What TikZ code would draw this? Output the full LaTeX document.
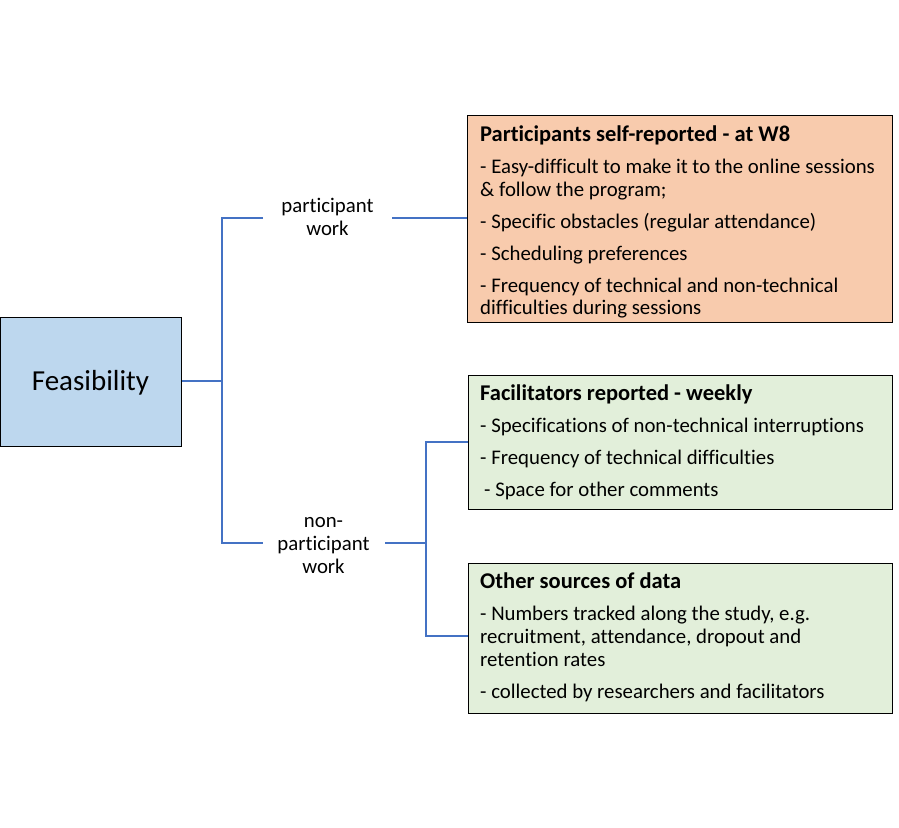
\documentclass[tikz,border=0pt]{standalone}
\usepackage{fontspec}
\setmainfont[Ligatures=CommonOff]{Carlito}
\definecolor{lblue}{HTML}{BDD7EE}
\definecolor{lorange}{HTML}{F8CBAD}
\definecolor{lgreen}{HTML}{E2EFDA}
\definecolor{linkblue}{HTML}{4472C4}
\begin{document}
\begin{tikzpicture}[x=1pt,y=-1pt,
  box/.style={draw=black,line width=1.2pt,anchor=north west,inner sep=0pt},
  txt/.style={anchor=base west,inner sep=0pt,font=\fontsize{20.8}{24}\selectfont},
  ttl/.style={anchor=base west,inner sep=0pt,font=\fontsize{22.5}{26}\selectfont\bfseries},
  lbl/.style={anchor=base,inner sep=0pt,font=\fontsize{20.8}{24}\selectfont},
  link/.style={draw=linkblue,line width=1.8pt}]
\useasboundingbox (0,0) rectangle (899,827);
% boxes
\node[box,fill=lblue,minimum width=181pt,minimum height=129pt] (feas) at (0,317) {};
\node[anchor=base,inner sep=0pt,font=\fontsize{29}{34}\selectfont] (feast) at (90.5,390) {Feasibility};
\node[box,fill=lorange,minimum width=425pt,minimum height=207pt] (pbox) at (467,115) {};
\node[box,fill=lgreen,minimum width=424pt,minimum height=134pt] (fbox) at (468,375) {};
\node[box,fill=lgreen,minimum width=424pt,minimum height=150pt] (obox) at (468,563) {};
% orange text
\node[ttl] (p0) at (480,141) {Participants self-reported - at W8};
\node[txt] (p1) at (480,173) {- Easy-difficult to make it to the online sessions};
\node[txt] (p2) at (480,196) {\& follow the program;};
\node[txt] (p3) at (480,228) {- Specific obstacles (regular attendance)};
\node[txt] (p4) at (480,260) {- Scheduling preferences};
\node[txt] (p5) at (480,292) {- Frequency of technical and non-technical};
\node[txt] (p6) at (480,314) {difficulties during sessions};
% green 1
\node[ttl] (f0) at (480,400) {Facilitators reported - weekly};
\node[txt] (f1) at (480,432) {- Specifications of non-technical interruptions};
\node[txt] (f2) at (480,464) {- Frequency of technical difficulties};
\node[txt] (f3) at (484,496) {- Space for other comments};
% green 2
\node[ttl] (g0) at (480,588) {Other sources of data};
\node[txt] (g1) at (480,620) {- Numbers tracked along the study, e.g.};
\node[txt] (g2) at (480,643) {recruitment, attendance, dropout and};
\node[txt] (g3) at (480,666) {retention rates};
\node[txt] (g4) at (480,698) {- collected by researchers and facilitators};
% labels
\node[lbl] (pw1) at (327.5,212) {participant};
\node[lbl] (pw2) at (327.5,235) {work};
\node[lbl] (nw1) at (323.5,527) {non-};
\node[lbl] (nw2) at (323.5,550) {participant};
\node[lbl] (nw3) at (323.5,573) {work};
% connectors
\coordinate (j1) at (222,381);
\coordinate (pa) at (263,218);
\coordinate (pb) at (392,218);
\coordinate (na) at (263,543);
\coordinate (nb) at (385,543);
\coordinate (j2) at (426,543);
\draw[link] (feas.east |- j1) -- (j1);
\draw[link] (pa) -- (pa -| j1) -- (na -| j1) -- (na);
\draw[link] (pb) -- (pb -| pbox.west);
\draw[link] (nb) -- (j2);
\draw[link] (fbox.west |- 0,442) -- (j2 |- 0,442) -- (j2 |- 0,636) -- (obox.west |- 0,636);
\end{tikzpicture}
\end{document}
